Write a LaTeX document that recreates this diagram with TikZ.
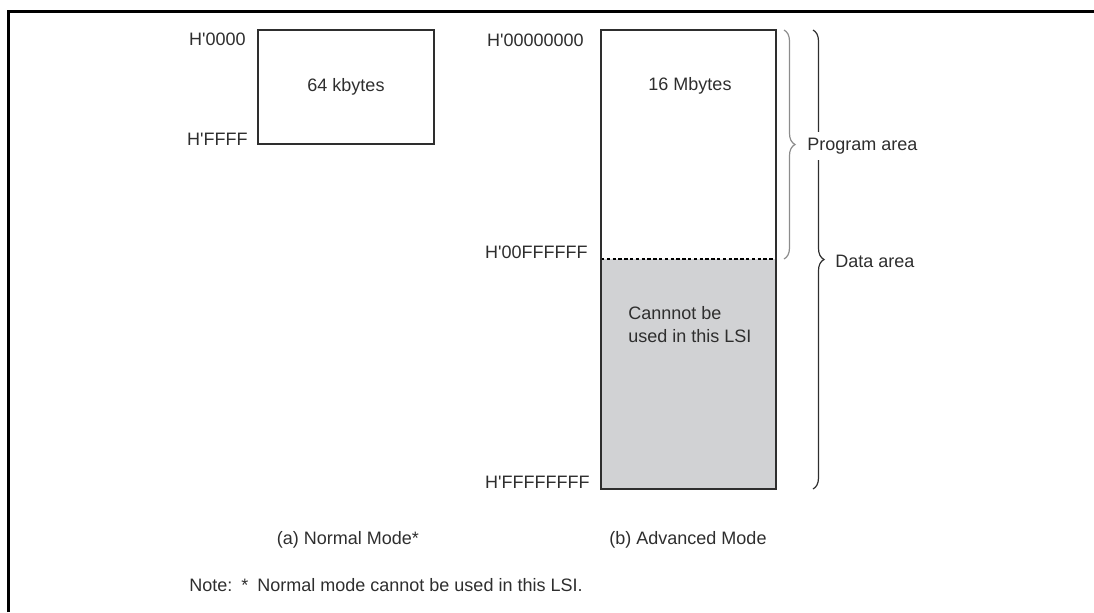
\documentclass[tikz,border=0pt]{standalone}
\usepackage{fontspec}
\setmainfont{Liberation Sans}
\usetikzlibrary{decorations.pathreplacing}
\definecolor{inkgray}{HTML}{2E2E2E}
\definecolor{unusedfill}{HTML}{D1D2D4}
\definecolor{bracegray}{HTML}{8C8C8C}
\newcommand{\apos}{\textquotesingle}

\begin{document}
\begin{tikzpicture}[x=0.5pt,y=-0.5pt,font=\fontsize{9}{11.5}\selectfont,text=inkgray]
    \tikzstyle{area box}=[draw=inkgray, line width=1pt]
    \tikzstyle{addr}=[anchor=east, inner sep=0pt]
    \tikzstyle{area brace}=[decorate, decoration={brace,amplitude=5.5pt}, line width=0.6pt]
    \tikzstyle{annot}=[anchor=west, inner sep=0pt]

    \useasboundingbox (0,0) rectangle (1094,612);

    % outer frame
    \draw[line width=1.5pt] (8.5,612) -- (8.5,11) -- (1094,11);

    % (a) normal mode map
    \coordinate (N-top) at (258,30);
    \coordinate (N-bot) at (434,144);
    \draw[area box] (N-top) rectangle (N-bot);
    \node (N-size) at (346,87) {64 kbytes};
    \node[addr] (N-start) at (246,39) {H\apos 0000};
    \node[addr] (N-end) at (248,139) {H\apos FFFF};

    % (b) advanced mode map
    \coordinate (A-top) at (601,30);
    \coordinate (A-mid) at (601,259);
    \coordinate (A-midr) at (776,259);
    \coordinate (A-bot) at (776,489);
    \fill[unusedfill] (A-mid) rectangle (A-bot);
    \draw[line width=0.6pt, dash pattern=on 1.7pt off 1.2pt] (A-mid) -- (A-midr);
    \draw[area box] (A-top) rectangle (A-bot);
    \node (A-size) at (690,86) {16 Mbytes};
    \node[anchor=north west, inner sep=0pt, align=left] (A-unused) at (628,306) {Cannnot be\\used in this LSI};
    \node[addr] (A-start) at (584,40) {H\apos 00000000};
    \node[addr] (A-limit) at (588,252) {H\apos 00FFFFFF};
    \node[addr] (A-end) at (590,482) {H\apos FFFFFFFF};

    % areas
    \coordinate (P-from) at (784,30);
    \coordinate (P-to) at (784,259);
    \coordinate (D-from) at (813,30);
    \coordinate (D-to) at (813,489);
    \draw[area brace, draw=bracegray] (P-from) -- (P-to);
    \draw[area brace, draw=inkgray] (D-from) -- (D-to);
    \node[annot, fill=white, inner ysep=3pt] (P-label) at (807,146) {Program area};
    \node[annot] (D-label) at (835,261) {Data area};

    % captions
    \node (N-caption) at (348,540) {(a) Normal Mode*};
    \node (A-caption) at (688,540) {(b) Advanced Mode};
    \node[annot] (note) at (189,585) {Note:\enspace*\enspace Normal mode cannot be used in this LSI.};
\end{tikzpicture}
\end{document}
